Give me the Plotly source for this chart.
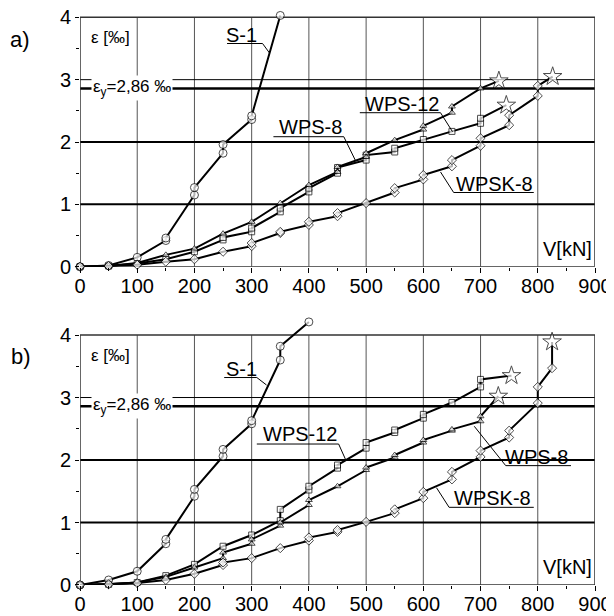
import plotly.graph_objects as go

# ---------------- data ----------------
# Panel a)
s1_a_x = [0, 50, 100, 150, 150, 200, 200, 250, 250, 300, 300, 350]
s1_a_y = [0, 0.02, 0.15, 0.42, 0.46, 1.15, 1.27, 1.82, 1.96, 2.36, 2.42, 4.03]

wps12_a_x = [0, 50, 100, 150, 200, 250, 250, 300, 300, 350, 350, 400, 400, 450, 450, 500, 500,
             550, 550, 600, 650, 700, 700, 745]
wps12_a_y = [0, 0.01, 0.05, 0.12, 0.24, 0.43, 0.47, 0.56, 0.62, 0.88, 0.94, 1.20, 1.26, 1.50, 1.59,
             1.71, 1.79, 1.84, 1.90, 2.04, 2.17, 2.30, 2.38, 2.59]

wps8_a_x = [0, 50, 100, 150, 200, 250, 300, 350, 400, 450, 450, 500, 500, 550, 600, 600, 650, 650,
            700, 732]
wps8_a_y = [0, 0.01, 0.06, 0.19, 0.29, 0.53, 0.72, 1.02, 1.31, 1.52, 1.60, 1.76, 1.82, 2.03, 2.20,
            2.26, 2.47, 2.57, 2.86, 2.98]

wpsk8_a_x = [0, 50, 100, 150, 200, 250, 300, 300, 350, 350, 400, 400, 450, 450, 500, 550, 550, 600,
             600, 650, 650, 700, 700, 750, 750, 800, 800, 826]
wpsk8_a_y = [0, 0.01, 0.03, 0.08, 0.12, 0.24, 0.33, 0.38, 0.54, 0.56, 0.67, 0.72, 0.81, 0.86, 1.02,
             1.19, 1.26, 1.40, 1.47, 1.61, 1.71, 1.94, 2.06, 2.27, 2.43, 2.74, 2.90, 3.05]

# Panel b)
s1_b_x = [0, 50, 100, 150, 150, 200, 200, 250, 250, 300, 300, 350, 350, 400]
s1_b_y = [0, 0.08, 0.22, 0.66, 0.73, 1.42, 1.53, 2.06, 2.17, 2.58, 2.63, 3.60, 3.82, 4.21]

wps12_b_x = [0, 50, 100, 150, 200, 250, 300, 350, 350, 400, 400, 450, 450, 500, 500, 550, 550, 600,
             600, 650, 700, 700, 754]
wps12_b_y = [0, 0.01, 0.04, 0.15, 0.33, 0.62, 0.80, 1.03, 1.21, 1.52, 1.58, 1.87, 1.92, 2.19, 2.28,
             2.44, 2.48, 2.67, 2.73, 2.92, 3.17, 3.29, 3.35]

wps8_b_x = [0, 50, 100, 150, 200, 250, 250, 300, 300, 350, 350, 400, 400, 450, 500, 500, 550, 550,
            600, 600, 650, 650, 700, 700, 731]
wps8_b_y = [0, 0.01, 0.04, 0.13, 0.28, 0.43, 0.52, 0.66, 0.73, 0.95, 1.00, 1.28, 1.36, 1.58, 1.84,
            1.88, 2.04, 2.08, 2.28, 2.32, 2.47, 2.49, 2.62, 2.70, 3.02]

wpsk8_b_x = [0, 50, 100, 150, 200, 250, 250, 300, 350, 400, 400, 450, 450, 500, 550, 550, 600, 600,
             650, 650, 700, 700, 750, 750, 800, 800, 825, 825]
wpsk8_b_y = [0, 0.01, 0.03, 0.08, 0.18, 0.32, 0.36, 0.43, 0.59, 0.71, 0.76, 0.85, 0.88, 1.01, 1.15,
             1.21, 1.39, 1.49, 1.69, 1.81, 2.05, 2.15, 2.36, 2.47, 2.91, 3.17, 3.47, 3.89]

x_ticks = [0, 100, 200, 300, 400, 500, 600, 700, 800, 900]
y_ticks = [0, 1, 2, 3, 4]
eps_y = 2.86
grid_x = [100, 200, 300, 400, 500, 600, 700, 800]

# label: text, text-centre (x,y), underline x0,x1,y, leader end (x,y)
labels_a = [
    ("S-1", 283, 3.72, 257, 319, 3.58, 331, 3.43),
    ("WPS-12", 563, 2.61, 489, 630, 2.47, 651, 2.165),
    ("WPS-8", 403, 2.245, 338, 461, 2.085, 481, 1.71),
    ("WPSK-8", 725, 1.33, 653, 793, 1.19, 630, 1.52),
]
labels_b = [
    ("S-1", 283, 3.46, 252, 309, 3.32, 326, 3.20),
    ("WPS-12", 385, 2.42, 309, 452, 2.256, 464, 2.01),
    ("WPS-8", 798, 2.05, 744, 858, 1.91, 689, 2.54),
    ("WPSK-8", 721, 1.40, 645, 793, 1.243, 623, 1.557),
]

FONT = "Liberation Sans, Arial, sans-serif"

fig = go.Figure()


def add_series(x, y, sym, size, xa, ya, star):
    n = len(x)
    syms = [sym] * n
    sizes = [size] * n
    if star:
        syms[-1] = "star"
        sizes[-1] = 14
    fig.add_trace(go.Scatter(
        x=x, y=y, mode="lines+markers", xaxis=xa, yaxis=ya,
        line=dict(color="black", width=2),
        marker=dict(symbol=syms, size=sizes, color="white",
                    line=dict(color="black", width=1)),
        cliponaxis=False, showlegend=False, hoverinfo="x+y"))


for xa, ya, data in [
    ("x", "y", [(s1_a_x, s1_a_y, "circle", 8, False), (wps12_a_x, wps12_a_y, "square", 6, True),
                (wps8_a_x, wps8_a_y, "triangle-up", 6, True), (wpsk8_a_x, wpsk8_a_y, "diamond", 7, True)]),
    ("x2", "y2", [(s1_b_x, s1_b_y, "circle", 8, False), (wps12_b_x, wps12_b_y, "square", 6, True),
                  (wps8_b_x, wps8_b_y, "triangle-up", 6, True), (wpsk8_b_x, wpsk8_b_y, "diamond", 7, True)]),
]:
    for (x, y, sym, size, star) in data:
        add_series(x, y, sym, size, xa, ya, star)

shapes = []
annotations = []
for xr, yr, labels in [("x", "y", labels_a), ("x2", "y2", labels_b)]:
    for gx in grid_x:
        shapes.append(dict(type="line", xref=xr, yref=yr, x0=gx, x1=gx, y0=0, y1=4,
                           line=dict(color="#555", width=1), layer="below"))
    for gy, w in [(1, 2), (2, 2), (3, 1)]:
        shapes.append(dict(type="line", xref=xr, yref=yr, x0=0, x1=900, y0=gy, y1=gy,
                           line=dict(color="black", width=w), layer="below"))
    shapes.append(dict(type="line", xref=xr, yref=yr, x0=0, x1=900, y0=eps_y, y1=eps_y,
                       line=dict(color="black", width=2.5), layer="below"))
    shapes.append(dict(type="rect", xref=xr, yref=yr, x0=0, x1=900, y0=0, y1=4,
                       line=dict(color="#333", width=1.5), layer="below"))
    for (t, tx, ty, u0, u1, uy, lx, ly) in labels:
        lead_from = u1 if lx > u1 else u0
        shapes.append(dict(type="path", xref=xr, yref=yr,
                           path=f"M {u0} {uy} L {u1} {uy} M {lead_from} {uy} L {lx} {ly}",
                           line=dict(color="black", width=1)))
        annotations.append(dict(text=t, x=tx, y=ty, xref=xr, yref=yr, showarrow=False,
                                xanchor="center", yanchor="middle",
                                font=dict(family=FONT, size=20, color="black")))
    annotations.append(dict(text="ε<sub>y</sub>=2,86 ‰", x=20, y=eps_y, xref=xr, yref=yr,
                            showarrow=False, xanchor="left", yanchor="middle",
                            bgcolor="white", borderpad=1,
                            font=dict(family=FONT, size=17, color="black")))
    annotations.append(dict(text="ε [‰]", x=16, y=3.68, xref=xr, yref=yr, showarrow=False,
                            xanchor="left", yanchor="middle",
                            font=dict(family=FONT, size=17, color="black")))
    annotations.append(dict(text="V[kN]", x=898, y=0.28, xref=xr, yref=yr, showarrow=False,
                            xanchor="right", yanchor="middle",
                            font=dict(family=FONT, size=20, color="black")))

annotations.append(dict(text="a)", x=-0.14, y=0.949, xref="paper", yref="paper", showarrow=False,
                        xanchor="left", yanchor="middle",
                        font=dict(family=FONT, size=22, color="black")))
annotations.append(dict(text="b)", x=-0.138, y=0.4276, xref="paper", yref="paper", showarrow=False,
                        xanchor="left", yanchor="middle",
                        font=dict(family=FONT, size=22, color="black")))

axis_x = dict(range=[0, 900], tickvals=x_ticks, ticks="outside", ticklen=5, tickwidth=1,
              tickcolor="black", showgrid=False, zeroline=False, showline=False,
              minor=dict(dtick=50, tick0=0, ticks="outside", ticklen=3, tickcolor="black", showgrid=False),
              tickfont=dict(family=FONT, size=20, color="black"), domain=[0, 1], automargin=False,
              ticklabeloverflow="allow", ticklabelstandoff=-4)
axis_y = dict(tickvals=y_ticks, ticks="outside", ticklen=4, tickwidth=1, tickcolor="black",
              showgrid=False, zeroline=False, showline=False,
              minor=dict(dtick=0.5, tick0=0, ticks="outside", ticklen=3, tickcolor="black", showgrid=False),
              tickfont=dict(family=FONT, size=20, color="black"), automargin=False,
              ticklabeloverflow="allow")

# The page body has an 8px default margin, so the figure is sized 8px smaller.
fig.update_layout(
    width=606, height=608,
    margin=dict(l=72, r=19, t=0, b=0),
    paper_bgcolor="white", plot_bgcolor="white",
    xaxis=dict(axis_x, anchor="y"),
    yaxis=dict(axis_y, range=[0, 4.05], domain=[0.5745, 0.9898], anchor="x"),
    xaxis2=dict(axis_x, anchor="y2"),
    yaxis2=dict(axis_y, range=[0, 4.25], domain=[0.0510, 0.4878], anchor="x2"),
    shapes=shapes, annotations=annotations, showlegend=False,
    font=dict(family=FONT, color="black"),
)

fig.write_html("out.html")
